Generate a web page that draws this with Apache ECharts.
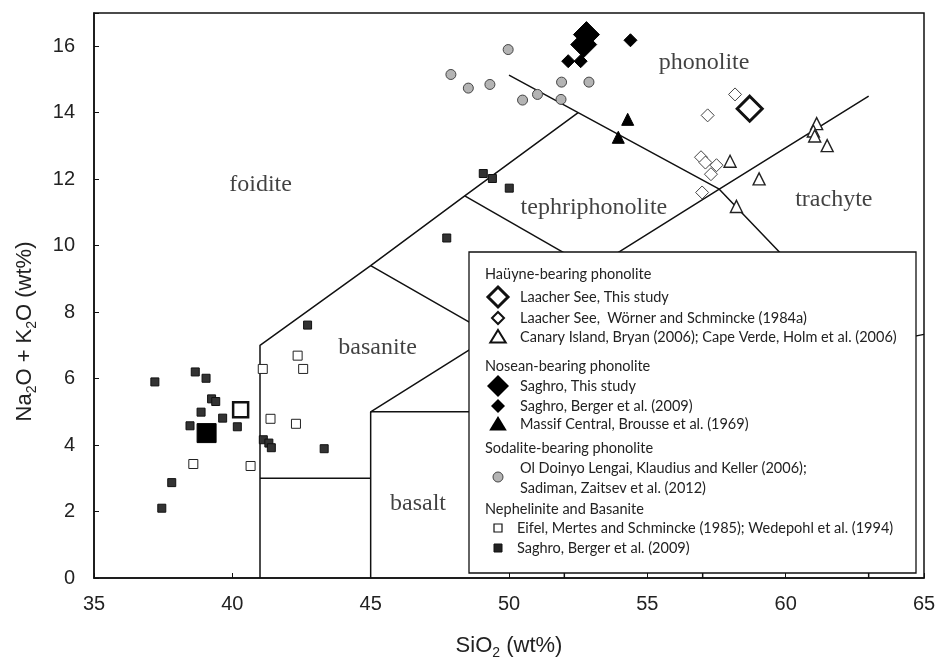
<!DOCTYPE html>
<html>
<head>
<meta charset="utf-8">
<script src="https://cdn.jsdelivr.net/npm/echarts@6/dist/echarts.min.js"></script>
<style>html,body{margin:0;padding:0;background:#fff}#c{width:936px;height:663px}</style>
</head>
<body>
<div id="c"></div>
<script>
// ---- data (SiO2, Na2O+K2O) ----
const laacherThisStudy = [[58.7, 14.12]];
const laacherWorner = [[58.17,14.55],[57.18,13.92],[56.94,12.66],[57.1,12.5],[57.5,12.42],[57.3,12.15],[56.98,11.6]];
const canaryCapeVerde = [[61.12,13.67],[61.0,13.45],[61.05,13.3],[61.5,13.01],[57.99,12.54],[59.04,12.01],[58.22,11.18]];
const saghroThisStudy = [[52.8,16.35],[52.7,16.05]];
const saghroBergerPhon = [[54.39,16.18],[52.14,15.55],[52.59,15.55]];
const massifCentral = [[54.29,13.8],[53.95,13.26]];
const sodalite = [[49.97,15.9],[47.9,15.15],[48.53,14.74],[49.31,14.85],[50.49,14.38],[51.03,14.55],[51.9,14.92],[52.89,14.92],[51.88,14.4]];
const eifel = [[42.36,6.69],[42.56,6.29],[41.1,6.29],[41.38,4.79],[42.3,4.64],[38.59,3.43],[40.66,3.37]];
const saghroBergerNeph = [[49.07,12.17],[49.4,12.02],[50.01,11.73],[47.75,10.23],[42.72,7.61],[38.66,6.2],[39.05,6.01],[39.25,5.39],[39.4,5.31],[38.87,4.99],[39.65,4.81],[40.18,4.55],[38.47,4.58],[41.12,4.16],[41.32,4.06],[41.41,3.92],[43.32,3.89],[37.81,2.87],[37.2,5.9],[37.45,2.1]];
const eifelMean = [[40.3,5.06]];
const saghroNephMean = [[39.07,4.36]];

// TAS field boundaries
const tasLines = [
  [[41,0],[41,7],[45,9.4],[48.4,11.5],[52.5,14]],
  [[41,3],[45,3]],
  [[45,0],[45,5],[52,5],[52,0]],
  [[45,5],[49.4,7.3],[45,9.4]],
  [[49.4,7.3],[52,5]],
  [[48.4,11.5],[53,9.3]],
  [[49.4,7.3],[53,9.3],[57.6,11.7],[63,14.5]],
  [[50,15.13],[52.5,14],[57.6,11.7],[63,7]],
  [[52,5],[57,5.9],[63,7],[65,7.33]],
  [[57,0],[57,5.9],[53,9.3]],
  [[63,0],[63,7]]
];
const fieldLabels = [
  [57.05,15.5,'phonolite'],
  [53.07,11.14,'tephriphonolite'],
  [61.74,11.39,'trachyte'],
  [41.02,11.84,'foidite'],
  [45.25,6.93,'basanite'],
  [46.71,2.25,'basalt']
];
const xTicks = [35,40,45,50,55,60,65];
const yTicks = [0,2,4,6,8,10,12,14,16];

const legendGroups = [
  {title:'Haüyne-bearing phonolite', items:[
    {icon:'bigOpenDiamond', text:['Laacher See, This study']},
    {icon:'openDiamond', text:['Laacher See,  Wörner and Schmincke (1984a)']},
    {icon:'openTriangle', text:['Canary Island, Bryan (2006); Cape Verde, Holm et al. (2006)']}]},
  {title:'Nosean-bearing phonolite', items:[
    {icon:'bigDiamond', text:['Saghro, This study']},
    {icon:'diamond', text:['Saghro, Berger et al. (2009)']},
    {icon:'triangle', text:['Massif Central, Brousse et al. (1969)']}]},
  {title:'Sodalite-bearing phonolite', items:[
    {icon:'circle', text:['Ol Doinyo Lengai, Klaudius and Keller (2006);','Sadiman, Zaitsev et al. (2012)']}]},
  {title:'Nephelinite and Basanite', items:[
    {icon:'openSquare', text:['Eifel, Mertes and Schmincke (1985); Wedepohl et al. (1994)']},
    {icon:'square', text:['Saghro, Berger et al. (2009)']}]}
];

// ---- chart ----
const chart = echarts.init(document.getElementById('c'), null, {renderer:'canvas'});
const SANS = '"Liberation Sans", Arial, sans-serif';
const SERIF = '"Liberation Serif", "Times New Roman", serif';
const LEG = 'Lato, "Open Sans", sans-serif';
const LFONT = '14.5px ' + LEG;

const series = [];
tasLines.forEach((pts,i)=>{
  series.push({type:'line', name:'tas'+i, data:pts, symbol:'none', silent:true,
    lineStyle:{color:'#111', width:1.5}, z:1, animation:false});
});
function sc(name, data, symbol, size, fill, stroke, bw, z){
  series.push({type:'scatter', name, data, symbol, symbolSize:size, z:z||3, animation:false,
    itemStyle:{color:fill, borderColor:stroke, borderWidth:bw, opacity:1}});
}
sc('sodalite', sodalite, 'circle', 10, '#b4b4b4', '#444', 1);
sc('eifel', eifel, 'rect', 9, '#fff', '#222', 1);
sc('saghroNeph', saghroBergerNeph, 'rect', 8, '#333', '#111', 1);
sc('eifelMean', eifelMean, 'rect', 15, '#fff', '#111', 2.5);
sc('saghroNephMean', saghroNephMean, 'rect', 19, '#000', '#000', 1);
sc('laacherWorner', laacherWorner, 'diamond', 13, '#fff', '#444', 1);
sc('canary', canaryCapeVerde, 'triangle', 12, '#fff', '#222', 1.4);
sc('massif', massifCentral, 'triangle', 12, '#000', '#000', 1);
sc('saghroBerger', saghroBergerPhon, 'diamond', 13, '#000', '#000', 1);
sc('saghroThis', saghroThisStudy, 'diamond', 26, '#000', '#000', 1, 4);
sc('laacherThis', laacherThisStudy, 'diamond', 25, '#fff', '#111', 3, 4);

series.push({type:'scatter', name:'fields', data:fieldLabels, symbolSize:0, silent:true, z:2,
  label:{show:true, position:'inside', formatter:p=>p.data[2], fontFamily:SERIF, fontSize:24, color:'#111'}});

// legend graphic
const LX = 469, LY = 252, LW = 447, LH = 321;
const ZL = 100;
const children = [{type:'rect', z:ZL, shape:{x:LX,y:LY,width:LW,height:LH}, style:{fill:'#fff', stroke:'#111', lineWidth:1.3}}];
function icon(kind, cx, cy){
  const d = (s)=>[[cx,cy-s],[cx+s,cy],[cx,cy+s],[cx-s,cy]];
  const t = (s)=>[[cx,cy-s],[cx+s*1.1,cy+s*0.8],[cx-s*1.1,cy+s*0.8]];
  let el;
  switch(kind){
    case 'bigOpenDiamond': el = {type:'polygon', shape:{points:d(10)}, style:{fill:'#fff', stroke:'#111', lineWidth:3}}; break;
    case 'openDiamond': el = {type:'polygon', shape:{points:d(6)}, style:{fill:'#fff', stroke:'#111', lineWidth:2}}; break;
    case 'openTriangle': el = {type:'polygon', shape:{points:t(7)}, style:{fill:'#fff', stroke:'#111', lineWidth:2}}; break;
    case 'bigDiamond': el = {type:'polygon', shape:{points:d(11)}, style:{fill:'#000'}}; break;
    case 'diamond': el = {type:'polygon', shape:{points:d(7)}, style:{fill:'#000'}}; break;
    case 'triangle': el = {type:'polygon', shape:{points:t(8)}, style:{fill:'#000'}}; break;
    case 'circle': el = {type:'circle', shape:{cx:cx,cy:cy,r:5}, style:{fill:'#b4b4b4', stroke:'#444', lineWidth:1}}; break;
    case 'openSquare': el = {type:'rect', shape:{x:cx-4,y:cy-4,width:8,height:8}, style:{fill:'#fff', stroke:'#111', lineWidth:1.2}}; break;
    case 'square': el = {type:'rect', shape:{x:cx-4,y:cy-4,width:8,height:8}, style:{fill:'#222', stroke:'#111', lineWidth:1}}; break;
  }
  el.z = ZL + 1;
  return el;
}
function txt(x, y, s){
  return {type:'text', z:ZL+1, style:{x:x, y:y, text:s, font:LFONT, fill:'#222', align:'left', verticalAlign:'middle', textAlign:'left', textVerticalAlign:'middle'}};
}
const titleY = [274, 366, 448, 509];
const itemY = [[297,318,337],[386,406,424],[477],[528,548]];
legendGroups.forEach((g,gi)=>{
  children.push(txt(485, titleY[gi], g.title));
  g.items.forEach((it,ii)=>{
    const cy = itemY[gi][ii];
    const tx = gi===3 ? 517 : 520;
    children.push(icon(it.icon, 498, cy));
    if(it.text.length===1){
      children.push(txt(tx, cy, it.text[0]));
    } else {
      children.push(txt(tx, 468, it.text[0]));
      children.push(txt(tx, 488, it.text[1]));
    }
  });
});

const option = {
  backgroundColor:'#fff',
  animation:false,
  grid:{left:94, right:12, top:13, bottom:85, containLabel:false, outerBoundsMode:'none',
    show:true, borderColor:'#111', borderWidth:1.5, backgroundColor:'transparent'},
  xAxis:{type:'value', min:35, max:65, interval:5,
    axisLine:{show:true, lineStyle:{color:'#111', width:1.5}},
    axisTick:{show:true, inside:true, length:5, lineStyle:{color:'#111'}},
    splitLine:{show:false},
    axisLabel:{fontFamily:SANS, fontSize:20, color:'#222', margin:16, formatter:v=>xTicks.includes(v)?String(v):''},
    name:'{a|SiO}{s|2}{a| (wt%)}', nameLocation:'middle', nameGap:54,
    nameTextStyle:{rich:{a:{fontFamily:SANS, fontSize:22, color:'#222'}, s:{fontFamily:SANS, fontSize:14, color:'#222', padding:[14,0,0,0]}}}
  },
  yAxis:{type:'value', min:0, max:17, interval:2,
    axisLine:{show:true, lineStyle:{color:'#111', width:1.5}},
    axisTick:{show:true, inside:true, length:5, lineStyle:{color:'#111'}},
    splitLine:{show:false},
    axisLabel:{fontFamily:SANS, fontSize:20, color:'#222', margin:19, formatter:v=>yTicks.includes(v)?String(v):''},
    name:'{a|Na}{s|2}{a|O + K}{s|2}{a|O (wt%)}', nameLocation:'middle', nameGap:55,
    nameTextStyle:{padding:[0,72,0,0], rich:{a:{fontFamily:SANS, fontSize:22, color:'#222'}, s:{fontFamily:SANS, fontSize:14, color:'#222', padding:[14,0,0,0]}}}
  },
  graphic:[{type:'group', z:ZL, children:children}],
  series:series
};
chart.setOption(option);
</script>
</body>
</html>
